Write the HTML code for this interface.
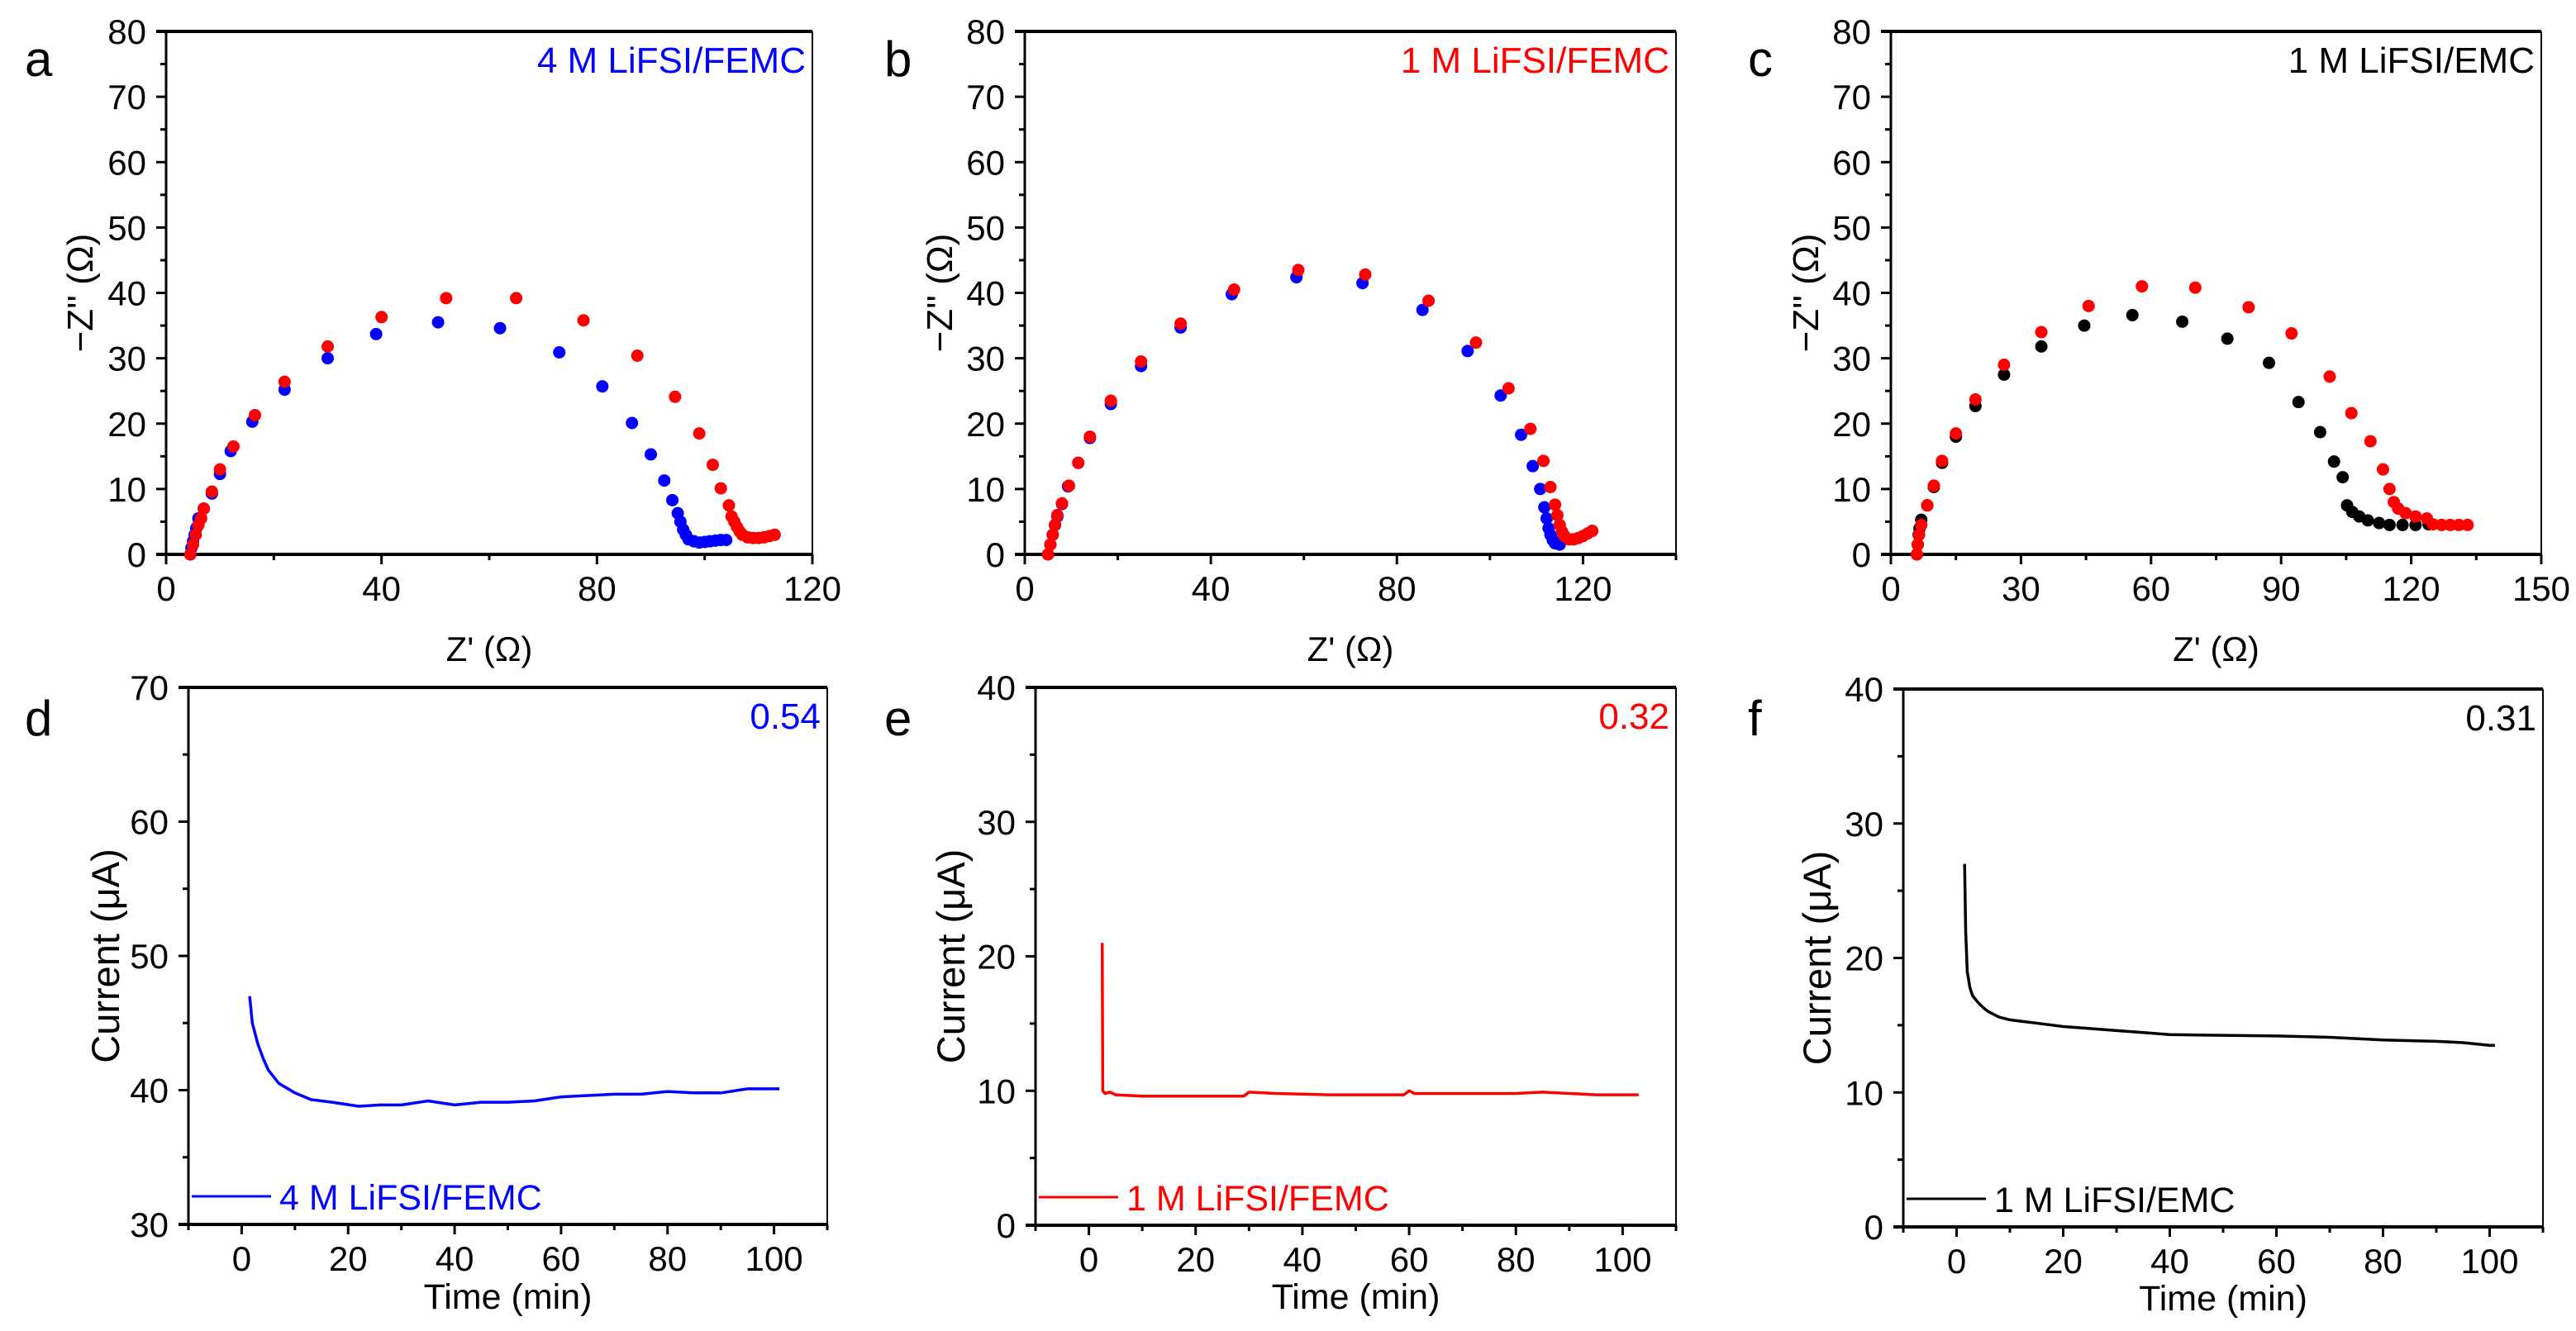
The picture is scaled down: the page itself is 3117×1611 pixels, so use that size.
<!DOCTYPE html>
<html><head><meta charset="utf-8">
<style>
html,body{margin:0;padding:0;background:#fff;}
svg{display:block;font-family:"Liberation Sans",Arial,sans-serif;}
</style></head>
<body>
<svg id="fig" width="3117" height="1611" viewBox="0 0 3117 1611" xmlns="http://www.w3.org/2000/svg"></svg>
<script>
// ---- Panel a data (Nyquist) ----
const aBlueX=[4.5,4.7,5,5.3,5.6,6,7,8.5,10,12,16,22,30,39,50.5,62,73,81,86.5,90,92.5,94,95,95.5,96,96.5,97,98,99,100,101,102,103,104];
const aBlueY=[0,1,2,3,4,5.5,7,9.3,12.3,15.8,20.3,25.2,30,33.7,35.5,34.6,30.9,25.7,20.1,15.3,11.3,8.3,6.3,5,3.8,3,2.3,2,1.8,1.9,2,2.1,2.2,2.2];
const aRedX=[4.5,5,5.5,6,6.5,7,8.5,10,12.5,16.5,22,30,40,52,65,77.5,87.5,94.5,99,101.5,103,104.5,105,105.5,106,106.5,107,108,109,110,111,112,113];
const aRedY=[0,1.5,3,4.5,5.5,7,9.6,13,16.5,21.3,26.4,31.8,36.3,39.2,39.2,35.8,30.4,24.1,18.5,13.7,10.1,7.5,5.8,5,4.2,3.5,3,2.6,2.5,2.5,2.6,2.8,3];
// ---- Panel b data ----
const bBlueX=[5,5.5,6,6.5,7,8,9.3,11.5,14,18.5,25,33.5,44.5,58.4,72.6,85.5,95.2,102.3,106.7,109.2,110.8,111.7,112.2,112.6,113,113.5,114,115];
const bBlueY=[0,1.5,3,4.5,5.8,7.7,10.4,14,17.8,23,28.8,34.7,39.8,42.4,41.5,37.4,31.1,24.3,18.3,13.5,10,7.2,5.5,4,3,2.2,1.7,1.5];
const bRedX=[5,5.5,6,6.5,7,8,9.5,11.5,14,18.5,25,33.5,45,58.8,73.2,86.8,97,104,108.7,111.5,113,114,114.5,115,115.5,116,117,118,119,120,121,122];
const bRedY=[0,1.5,3,4.5,6,7.8,10.5,14,18,23.5,29.5,35.3,40.5,43.5,42.8,38.8,32.4,25.4,19.2,14.3,10.3,7.6,6,4.5,3.5,2.8,2.3,2.3,2.5,2.8,3.2,3.6];
// ---- Panel c data ----
const cBlackX=[6,6.2,6.4,6.6,7,8.4,9.9,11.8,15,19.5,26.1,34.7,44.6,55.7,67.2,77.6,87.2,94,99,102.2,104.2,105.2,106.4,108,110,112.6,115,118,121,124];
const cBlackY=[0,1.5,3,4,5.3,7.5,10.3,14,18,22.7,27.5,31.8,35,36.6,35.6,33,29.3,23.3,18.7,14.2,11.8,7.5,6.5,5.8,5.2,4.8,4.5,4.5,4.5,4.6];
const cRedX=[6,6.2,6.5,7,8.4,9.9,11.8,15,19.5,26.1,34.7,45.6,57.9,70.2,82.5,92.4,101.2,106.2,110.6,113.5,115,116,117,118.7,121,123.6,125,127,129,131,133];
const cRedY=[0,1.5,3,4.5,7.5,10.5,14.3,18.5,23.7,29,34,38,41,40.8,37.8,33.8,27.2,21.6,17.3,13,10,8,7,6.3,5.8,5.5,4.6,4.5,4.5,4.5,4.5];
// ---- Panel d/e/f data (chronoamperometry) ----
const dTime=[1.5,2,3,4,5,7,10,13,17,22,26,30,35,40,45,50,55,60,65,70,75,80,85,90,95,101];
const dCurrent=[47,45,43.5,42.4,41.5,40.5,39.8,39.3,39.1,38.8,38.9,38.9,39.2,38.9,39.1,39.1,39.2,39.5,39.6,39.7,39.7,39.9,39.8,39.8,40.1,40.1];
const eTime=[2.5,2.6,3,4,5,10,20,29,30,35,45,59,60,61,70,80,85,90,95,103];
const eCurrent=[21,10,9.8,9.9,9.7,9.6,9.6,9.6,9.9,9.8,9.7,9.7,10,9.8,9.8,9.8,9.9,9.8,9.7,9.7];
const fTime=[1.5,1.7,2,2.5,3,4,5,6,8,10,12,16,20,25,30,35,40,50,60,70,80,90,95,100,101];
const fCurrent=[27,22,19,17.8,17.2,16.7,16.3,16,15.6,15.4,15.3,15.1,14.9,14.75,14.6,14.45,14.3,14.25,14.2,14.1,13.9,13.8,13.7,13.5,13.5];

const NS="http://www.w3.org/2000/svg";
const svg=document.getElementById('fig');
function mk(tag,attrs,parent){const e=document.createElementNS(NS,tag);for(const k in attrs)e.setAttribute(k,attrs[k]);(parent||svg).appendChild(e);return e;}

function panel(cfg){
  const g=mk('g',{});
  
  
  const L=cfg.L,R=cfg.R,T=cfg.T,B=cfg.B;
  const sx=v=>L+(v-cfg.x0)/(cfg.x1-cfg.x0)*(R-L);
  const sy=v=>B-(v-cfg.y0)/(cfg.y1-cfg.y0)*(B-T);
  mk('line',{x1:L,y1:T,x2:L,y2:B,stroke:'#000','stroke-width':3},g);
  mk('line',{x1:R,y1:T,x2:R,y2:B,stroke:'#000','stroke-width':2},g);
  mk('line',{x1:L-12,y1:T,x2:R,y2:T,stroke:'#000','stroke-width':4},g);
  mk('line',{x1:L-12,y1:B,x2:R,y2:B,stroke:'#000','stroke-width':4},g);
  for(let v=cfg.y0;v<=cfg.y1+1e-9;v+=cfg.yMinor){
    const major=Math.abs(((v-cfg.y0)/cfg.yMajor)-Math.round((v-cfg.y0)/cfg.yMajor))<1e-6;
    const y=sy(v);
    mk('line',{x1:L-(major?12:7),y1:y,x2:L,y2:y,stroke:'#000','stroke-width':3},g);
    if(major){const t=mk('text',{x:L-24,y:y+15,'text-anchor':'end','font-size':42,fill:'#000'},g);t.textContent=String(v);
      
      }
  }
  for(let v=cfg.xt0;v<=cfg.x1+1e-9;v+=cfg.xMinor){
    const major=Math.abs((v/cfg.xMajor)-Math.round(v/cfg.xMajor))<1e-6 && v>=cfg.xLab0;
    const x=sx(v);
    mk('line',{x1:x,y1:B,x2:x,y2:B+(major?12:7),stroke:'#000','stroke-width':3},g);
    if(major){const t=mk('text',{x:x,y:B+56,'text-anchor':'middle','font-size':42,fill:'#000'},g);t.textContent=String(v);
      
      }
  }
  const xt=mk('text',{x:(L+R)/2,y:cfg.xTitleY,'text-anchor':'middle','font-size':cfg.xTitleSize,fill:'#000'},g);
  xt.textContent=cfg.xTitle;
  
  
  const yt=mk('text',{x:0,y:0,'text-anchor':'middle','font-size':cfg.yTitleSize,fill:'#000',transform:`translate(${cfg.yTitleX},${(T+B)/2}) rotate(-90)`},g);
  yt.textContent=cfg.yTitle;
  
  
  const lt=mk('text',{x:cfg.letterX,y:cfg.letterY,'font-size':60,fill:'#000'},g);
  lt.textContent=cfg.letter;
  
  
  const an=mk('text',{x:R-8,y:T+50,'text-anchor':'end','font-size':44,fill:cfg.annColor},g);
  an.textContent=cfg.ann;
  
  
  (cfg.scatter||[]).forEach(s=>{
    s.xs.forEach((xv,i)=>{
      const c=mk('circle',{cx:sx(xv),cy:sy(s.ys[i]),r:7.5,fill:s.color},g);
      
      
    });
  });
  (cfg.lines||[]).forEach(s=>{
    const pts=s.xs.map((xv,i)=>sx(xv).toFixed(1)+','+sy(s.ys[i]).toFixed(1)).join(' ');
    const p=mk('polyline',{points:pts,fill:'none',stroke:s.color,'stroke-width':3.5,'stroke-linejoin':'round'},g);
    
    
    const ly=B-34;
    const ll=mk('line',{x1:L+4,y1:ly,x2:L+100,y2:ly,stroke:s.color,'stroke-width':3},g);
    
    
    const lx=mk('text',{x:L+110,y:ly+16,'font-size':43,fill:s.color},g);
    lx.textContent=s.label;
    
    
  });
}
const Zx="Z' (\u03A9)", Zy="\u2212Z'' (\u03A9)";
panel({name:'panel-a',letter:'a',letterX:30,letterY:92,L:201,R:983,T:38,B:671,x0:0,x1:120,xt0:0,xLab0:0,xMajor:40,xMinor:20,y0:0,y1:80,yMajor:10,yMinor:5,
  xTitle:Zx,yTitle:Zy,xTitleY:800,yTitleX:112,xTitleSize:42,yTitleSize:44,ann:'4 M LiFSI/FEMC',annColor:'#0000ff',
  scatter:[{xs:aBlueX,ys:aBlueY,color:'#0000ff',name:'blue-series'},{xs:aRedX,ys:aRedY,color:'#ff0000',name:'red-series'}]});
panel({name:'panel-b',letter:'b',letterX:1070,letterY:92,L:1240,R:2028,T:38,B:671,x0:0,x1:140,xt0:0,xLab0:0,xMajor:40,xMinor:20,y0:0,y1:80,yMajor:10,yMinor:5,
  xTitle:Zx,yTitle:Zy,xTitleY:800,yTitleX:1152,xTitleSize:42,yTitleSize:44,ann:'1 M LiFSI/FEMC',annColor:'#ff0000',
  scatter:[{xs:bBlueX,ys:bBlueY,color:'#0000ff',name:'blue-series'},{xs:bRedX,ys:bRedY,color:'#ff0000',name:'red-series'}]});
panel({name:'panel-c',letter:'c',letterX:2115,letterY:92,L:2288,R:3075,T:38,B:671,x0:0,x1:150,xt0:0,xLab0:0,xMajor:30,xMinor:15,y0:0,y1:80,yMajor:10,yMinor:5,
  xTitle:Zx,yTitle:Zy,xTitleY:800,yTitleX:2200,xTitleSize:42,yTitleSize:44,ann:'1 M LiFSI/EMC',annColor:'#000',
  scatter:[{xs:cBlackX,ys:cBlackY,color:'#000',name:'black-series'},{xs:cRedX,ys:cRedY,color:'#ff0000',name:'red-series'}]});
panel({name:'panel-d',letter:'d',letterX:30,letterY:890,L:228,R:1001,T:832,B:1482,x0:-10,x1:110,xt0:-10,xLab0:0,xMajor:20,xMinor:10,y0:30,y1:70,yMajor:10,yMinor:5,
  xTitle:'Time (min)',yTitle:'Current (\u03BCA)',xTitleY:1584,yTitleX:144,xTitleSize:43,yTitleSize:47,ann:'0.54',annColor:'#0000ff',
  lines:[{xs:dTime,ys:dCurrent,color:'#0000ff',name:'blue-series',label:'4 M LiFSI/FEMC'}]});
panel({name:'panel-e',letter:'e',letterX:1070,letterY:890,L:1253,R:2028,T:832,B:1483,x0:-10,x1:110,xt0:-10,xLab0:0,xMajor:20,xMinor:10,y0:0,y1:40,yMajor:10,yMinor:5,
  xTitle:'Time (min)',yTitle:'Current (\u03BCA)',xTitleY:1584,yTitleX:1167,xTitleSize:43,yTitleSize:47,ann:'0.32',annColor:'#ff0000',
  lines:[{xs:eTime,ys:eCurrent,color:'#ff0000',name:'red-series',label:'1 M LiFSI/FEMC'}]});
panel({name:'panel-f',letter:'f',letterX:2115,letterY:890,L:2303,R:3077,T:834,B:1485,x0:-10,x1:110,xt0:-10,xLab0:0,xMajor:20,xMinor:10,y0:0,y1:40,yMajor:10,yMinor:5,
  xTitle:'Time (min)',yTitle:'Current (\u03BCA)',xTitleY:1586,yTitleX:2215,xTitleSize:43,yTitleSize:47,ann:'0.31',annColor:'#000',
  lines:[{xs:fTime,ys:fCurrent,color:'#000',name:'black-series',label:'1 M LiFSI/EMC'}]});
</script>
</body></html>
